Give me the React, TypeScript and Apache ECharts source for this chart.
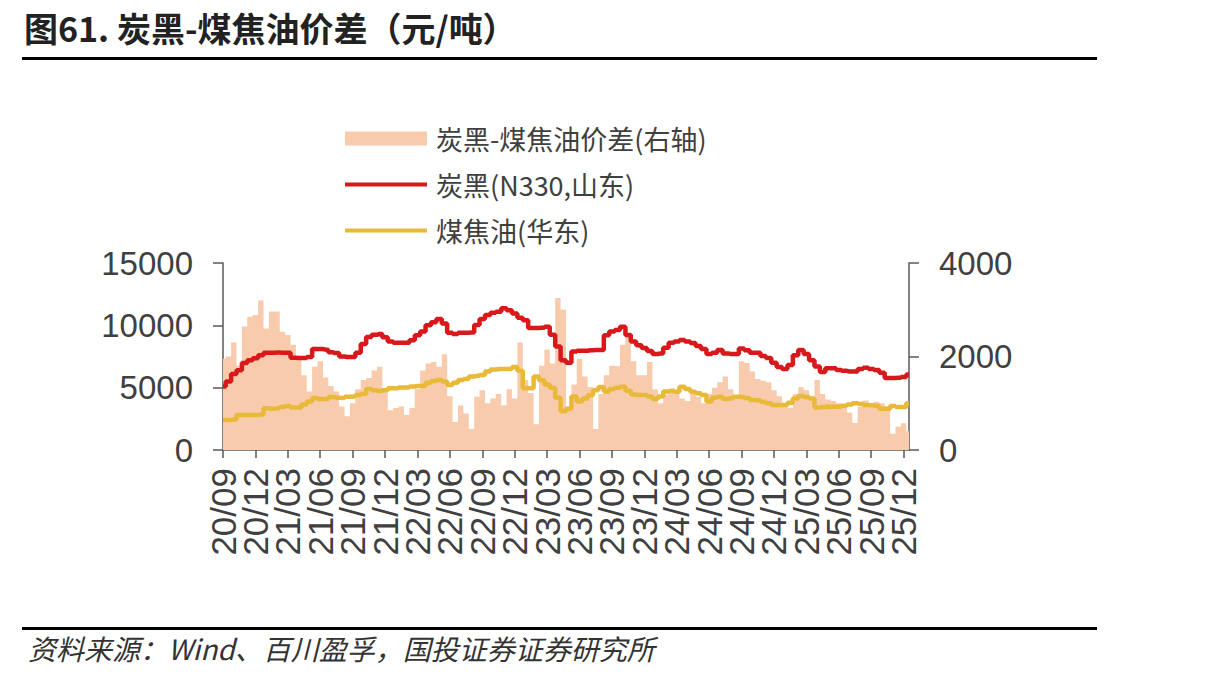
import React, { useEffect, useRef } from "react";
import * as echarts from "echarts";

// half-month samples from 2020-09-01 to 2025-12-16
const START_YEAR = 2020;
const START_MONTH = 9;

const TICK_LABELS = [
  "20/09", "20/12", "21/03", "21/06", "21/09", "21/12", "22/03", "22/06",
  "22/09", "22/12", "23/03", "23/06", "23/09", "23/12", "24/03", "24/06",
  "24/09", "24/12", "25/03", "25/06", "25/09", "25/12",
];

// 炭黑(N330,山东), 元/吨
const carbonBlack = [
  5100, 5500, 6100, 6400, 6980, 7200, 7350, 7600, 7800, 7800,
  7820, 7800, 7800, 7400, 7380, 7380, 7450, 8100, 8100, 8050,
  7850, 7780, 7500, 7460, 7460, 7800, 8500, 9060, 9250, 9300,
  9050, 8700, 8600, 8600, 8600, 8800, 9200, 9500, 10000, 10250,
  10500, 10150, 9400, 9300, 9400, 9400, 9420, 10020, 10500, 10830,
  11000, 11090, 11370, 11200, 10950, 10600, 10400, 9780, 9780, 9800,
  9890, 9250, 8300, 7200, 7000, 7900, 7960, 7960, 8000, 8020,
  8020, 9200, 9500, 9620, 9890, 9220, 8700, 8400, 8180, 7950,
  7700, 7750, 8200, 8600, 8700, 8820, 8700, 8580, 8350, 8100,
  7700, 7800, 8020, 7750, 7700, 7700, 8150, 8000, 7800, 7800,
  7550, 7380, 7000, 6650, 6500, 6820, 7600, 8020, 7700, 7200,
  6700, 6260, 6550, 6550, 6420, 6350, 6300, 6300, 6500, 6600,
  6500, 6420, 6200, 5770, 5780, 5790, 5850, 6050,
];

// 煤焦油(华东), 元/吨
const coalTar = [
  2400, 2400, 2450, 2800, 2800, 2800, 2800, 2850, 3340, 3300,
  3340, 3450, 3530, 3400, 3400, 3650, 3900, 4170, 4090, 4100,
  4250, 4200, 4170, 4280, 4300, 4410, 4500, 4890, 4800, 4730,
  4800, 4950, 4950, 5020, 5020, 5100, 5130, 5130, 5400, 5530,
  5610, 5500, 5210, 5400, 5610, 5690, 5900, 5950, 6020, 6300,
  6450, 6500, 6500, 6500, 6650, 6350, 4950, 4950, 5900, 5600,
  5250, 5000, 4200, 3100, 3300, 4300, 3900, 4140, 4400, 4800,
  5050, 4700, 4900, 5000, 5080, 4750, 4450, 4410, 4410, 4300,
  4090, 4300, 4700, 4750, 4680, 5080, 4900, 4680, 4550, 4410,
  3900, 4200, 4280, 4100, 4150, 4280, 4250, 4170, 4010, 4000,
  3880, 3750, 3610, 3610, 3610, 3800, 4140, 4330, 4250, 4140,
  3400, 3450, 3470, 3470, 3470, 3550, 3650, 3740, 3700, 3610,
  3580, 3530, 3300, 3300, 3530, 3450, 3450, 3740,
];

// 炭黑-煤焦油价差(右轴), 元/吨
const spread = [
  1950, 2000, 2300, 1800, 2640, 2850, 2890, 3200, 2600, 2960,
  2960, 2530, 2460, 2250, 2000, 1600, 1250, 1780, 1900, 1550,
  1370, 1250, 930, 720, 1000, 1300, 1500, 1540, 1700, 1780,
  1300, 850, 900, 930, 750, 900, 1300, 1700, 1850, 1880,
  1780, 2050, 1150, 600, 950, 780, 450, 1140, 1280, 1000,
  1100, 1200, 950, 1300, 1100, 2300, 1500, 1220, 550, 1800,
  2150, 1850, 3250, 3000, 900, 1400, 1950, 1570, 1350, 450,
  1200, 1600, 1800, 1790, 2250, 2450, 1900, 1600, 1600, 1880,
  1300, 1000, 1180, 1250, 1280, 1100, 1050, 1220, 1140, 1000,
  1200, 1330, 1450, 1570, 1300, 1100, 1900, 1860, 1680, 1520,
  1480, 1450, 1280, 1150, 950, 900, 1200, 1350, 1280, 1070,
  1500, 1200, 1080, 1050, 1000, 950, 800, 580, 930, 1060,
  1000, 1030, 1000, 930, 350, 500, 570, 400,
];

const pad = (n: number) => (n < 10 ? "0" + n : "" + n);

const categories: string[] = spread.map((_, i) => {
  const m = START_MONTH - 1 + Math.floor(i / 2);
  const y = START_YEAR + Math.floor(m / 12);
  return y + "-" + pad((m % 12) + 1) + "-" + (i % 2 === 0 ? "01" : "16");
});

const shortLabel = (v: string) => v.slice(2, 4) + "/" + v.slice(5, 7);
const isTick = (_: number, v: string) =>
  v.endsWith("-01") && TICK_LABELS.includes(shortLabel(v));

const CJK = "'Noto Sans CJK SC', 'Liberation Sans', sans-serif";
const NUM = "'Liberation Sans', Arial, sans-serif";
const AXIS = "#595959";
const LABEL = "#404040";
const LINE_ICON = "path://M0,0L80,0L80,4L0,4Z";

export default function App() {
  const ref = useRef<HTMLDivElement | null>(null);

  useEffect(() => {
    if (!ref.current) return;
    const chart = echarts.init(ref.current, undefined, { renderer: "svg" });
    const yLabel = {
      margin: 30,
      fontFamily: NUM,
      fontSize: 33,
      color: LABEL,
      formatter: (v: number) => String(v),
    };
    chart.setOption({
      animation: false,
      backgroundColor: "#fff",
      grid: { left: 223, right: 305, top: 263, bottom: 231 },
      legend: {
        orient: "vertical",
        left: 340,
        top: 120,
        itemWidth: 82,
        itemHeight: 14,
        itemGap: 19,
        selectedMode: false,
        textStyle: { fontFamily: CJK, fontSize: 27, color: "#404040", padding: [0, 0, 0, 4] },
        data: [
          { name: "炭黑-煤焦油价差(右轴)", icon: "rect" },
          { name: "炭黑(N330,山东)", icon: LINE_ICON },
          { name: "煤焦油(华东)", icon: LINE_ICON },
        ],
      },
      xAxis: {
        type: "category",
        data: categories,
        boundaryGap: false,
        axisLine: { lineStyle: { color: AXIS, width: 1.5 } },
        axisTick: { interval: isTick, length: 8, lineStyle: { color: AXIS, width: 1.5 } },
        axisLabel: {
          // every category gets a label slot, only quarter starts get text
          interval: 0,
          formatter: (v: string) => (isTick(0, v) ? shortLabel(v) : ""),
          rotate: 90,
          margin: 18,
          fontFamily: NUM,
          fontSize: 35,
          color: LABEL,
        },
      },
      yAxis: [
        {
          type: "value",
          min: 0,
          max: 15000,
          interval: 5000,
          splitLine: { show: false },
          axisLine: { show: true, lineStyle: { color: AXIS, width: 1.5 } },
          axisTick: { show: true, length: 10, lineStyle: { color: AXIS, width: 1.5 } },
          axisLabel: yLabel,
        },
        {
          type: "value",
          position: "right",
          min: 0,
          max: 4000,
          interval: 2000,
          splitLine: { show: false },
          axisLine: { show: true, lineStyle: { color: AXIS, width: 1.5 } },
          axisTick: { show: true, length: 10, lineStyle: { color: AXIS, width: 1.5 } },
          axisLabel: yLabel,
        },
      ],
      series: [
        {
          name: "炭黑-煤焦油价差(右轴)",
          type: "line",
          yAxisIndex: 1,
          data: spread,
          symbol: "none",
          step: "middle",
          color: "#F8CBAD",
          lineStyle: { width: 0 },
          areaStyle: { color: "#F8CBAD", opacity: 1 },
          z: 1,
        },
        {
          name: "炭黑(N330,山东)",
          type: "line",
          data: carbonBlack,
          symbol: "none",
          step: "middle",
          color: "#D7191C",
          lineStyle: { width: 4.5, color: "#D7191C" },
          z: 3,
        },
        {
          name: "煤焦油(华东)",
          type: "line",
          data: coalTar,
          symbol: "none",
          step: "middle",
          color: "#E9BA3A",
          lineStyle: { width: 4.5, color: "#E9BA3A" },
          z: 3,
        },
      ],
      graphic: [
        {
          type: "text",
          left: 24,
          top: 10,
          style: {
            text: "图61. 炭黑-煤焦油价差（元/吨）",
            fontFamily: CJK,
            fontSize: 34,
            fontWeight: "bold",
            fill: "#222",
          },
        },
        { type: "rect", left: 22, top: 57, shape: { width: 1075, height: 3 }, style: { fill: "#000" } },
        { type: "rect", left: 22, top: 627, shape: { width: 1075, height: 3 }, style: { fill: "#000" } },
        {
          type: "text",
          left: 28,
          top: 634,
          style: {
            text: "资料来源：Wind、百川盈孚，国投证券证券研究所",
            fontFamily: CJK,
            fontSize: 28,
            fontStyle: "italic",
            fill: "#333",
          },
        },
      ],
    });
    return () => chart.dispose();
  }, []);

  return (
    <div
      ref={ref}
      style={{ position: "absolute", left: 0, top: 0, width: 1214, height: 681 }}
    />
  );
}
